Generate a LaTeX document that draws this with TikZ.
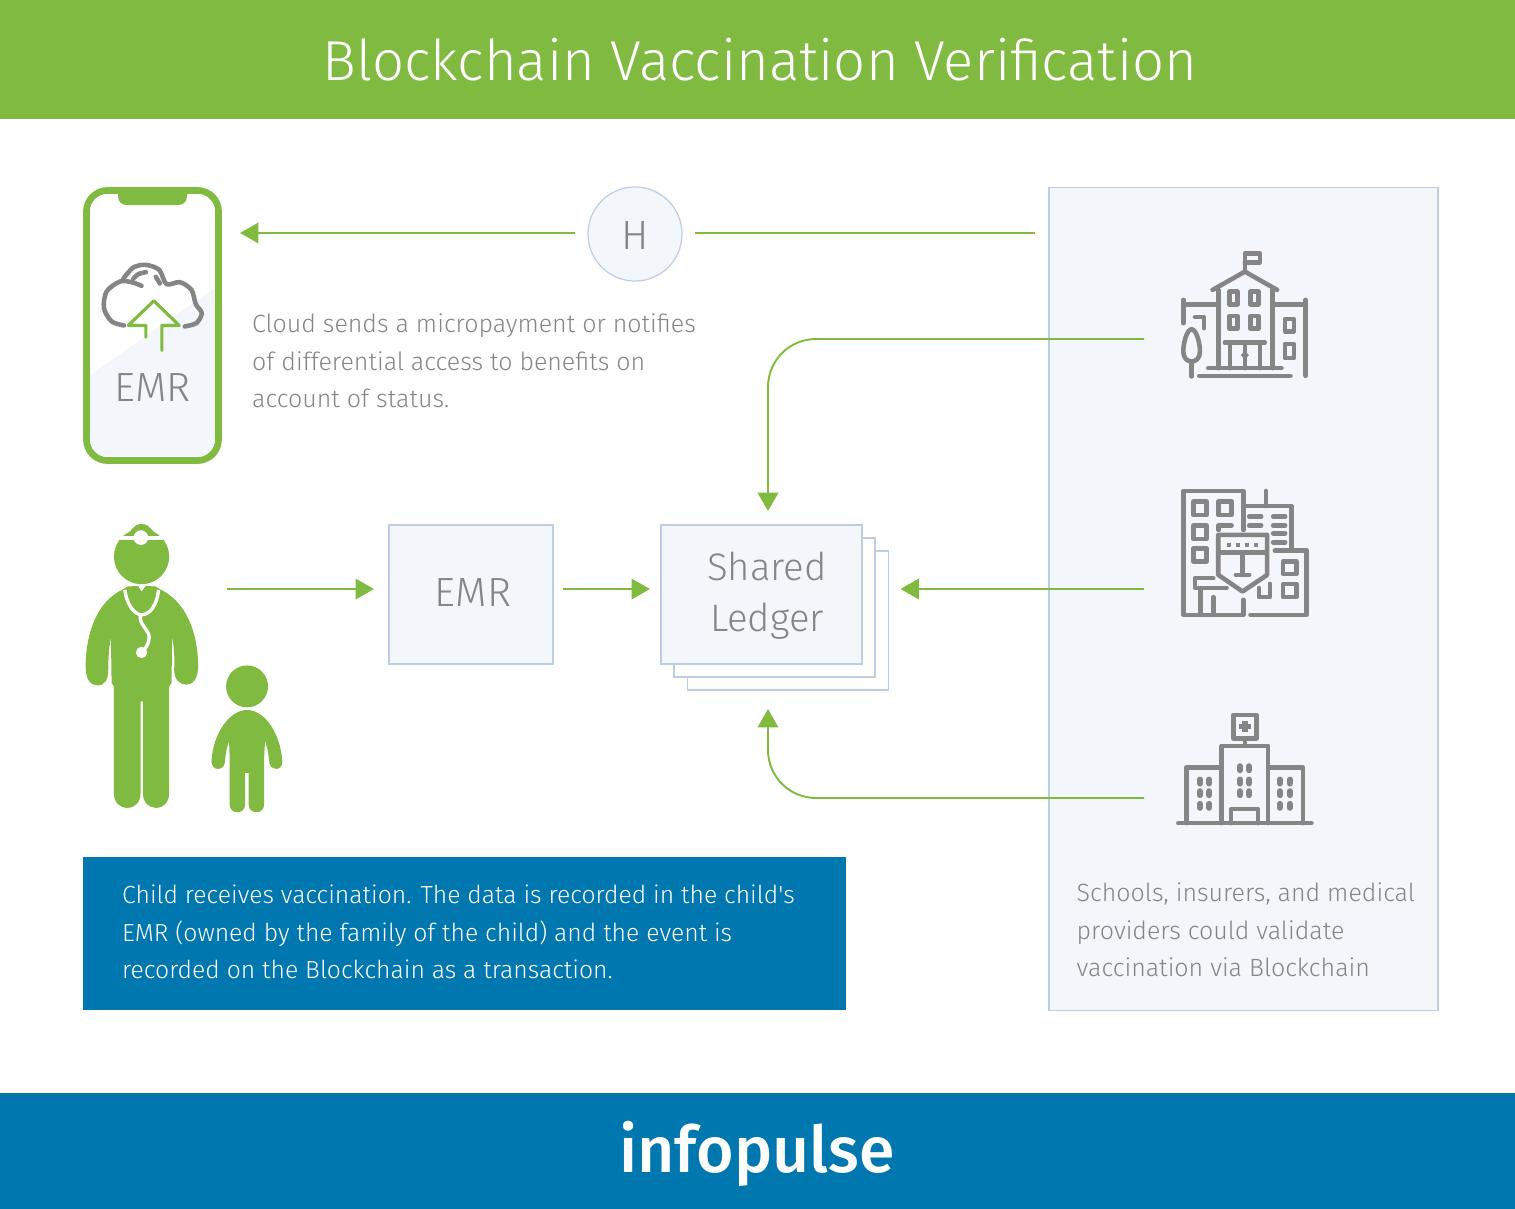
\documentclass[tikz,border=0pt]{standalone}
\usepackage{fontspec}
\setmainfont{Fira Sans Light}
\newfontfamily\logofont{Fira Sans Medium}
\usetikzlibrary{arrows.meta,calc,positioning}
\definecolor{leaf}{HTML}{80BA41}
\definecolor{sea}{HTML}{0077AE}
\definecolor{ash}{HTML}{858585}
\definecolor{mist}{HTML}{F3F6FA}
\definecolor{edge}{HTML}{BFCEDF}
\tikzset{
    sheet/.style={draw=edge,line width=0.38pt,minimum width=2.01cm,minimum height=1.39cm,inner sep=0pt,outer sep=0pt},
    flow/.style={draw=leaf,line width=0.55pt},
    flowtip/.style={flow,-{Triangle[length=5.2pt,width=5.8pt]}},
    para/.style={anchor=west,align=left,text=ash,font=\fontsize{7.1pt}{10.62pt}\selectfont,inner sep=0pt},
    biglabel/.style={text=ash,font=\fontsize{11.6pt}{14.4pt}\selectfont,align=center,inner sep=0pt},
    iconline/.style={draw=ash,line width=1.3pt,line cap=round,line join=round},
    closeup/.style={x=0.003333cm,y=-0.003333cm}
}
\begin{document}
\begin{tikzpicture}[x=0.01cm,y=-0.01cm]
    \useasboundingbox (0,0) rectangle (1515,1209);

    %bands
    \fill [leaf] (0,0) rectangle (1515,119);
    \fill [sea] (0,1093) rectangle (1515,1209);
    \draw (760,60) node (title) [text=white,font=\fontsize{16pt}{18pt}\selectfont] {Blockchain Vaccination Verification};
    \draw (757,1154) node (logo) [text=white,font=\logofont\fontsize{18.3pt}{20pt}\selectfont] {infopulse};

    %panel and boxes
    \draw (1243.5,599) node (panel) [sheet,fill=mist,minimum width=3.89cm,minimum height=8.22cm] {};
    \draw (788,620.5) node (sheetc) [sheet,fill=white] {};
    \draw (774.5,607.5) node (sheetb) [sheet,fill=white] {};
    \draw (761.5,594.5) node (ledger) [sheet,fill=mist] {};
    \draw (767,595.5) node (ledgertext) [biglabel,font=\fontsize{10.9pt}{14.4pt}\selectfont] {Shared\\Ledger};
    \draw (471,594.5) node (emr) [sheet,fill=mist,minimum width=1.64cm] {};
    \draw (473,593) node (emrtext) [biglabel] {EMR};
    \draw (635,234) node (hnode) [circle,draw=edge,line width=0.35pt,fill=mist,minimum size=0.94cm,inner sep=0pt,outer sep=0pt] {};
    \draw (635,236) node (htext) [biglabel] {H};
    \draw (464.5,933.5) node (note) [fill=sea,minimum width=7.63cm,minimum height=1.53cm,inner sep=0pt] {};

    %phone
    \fill [mist] (90,375) -- (215,288) -- (215,456) -- (90,456) -- cycle;
    \draw (152.5,325.5) node (phone) [draw=leaf,line width=1.9pt,rounded corners=6pt,minimum width=1.32cm,minimum height=2.7cm,inner sep=0pt,outer sep=1pt] {};
    \fill [leaf] (118,190) -- (187,190) -- (187,196) .. controls (187,202) and (183,205) .. (178,205) -- (127,205) .. controls (122,205) and (118,202) .. (118,196) -- cycle;
    \draw (152.5,388) node (phonelabel) [biglabel] {EMR};
    \begin{scope}[shift={(70,175)},closeup]
        \draw [iconline] plot [smooth] coordinates {(162,452) (125,440) (102,400) (110,350) (150,320) (185,322) (215,333)};
        \draw [iconline] plot [smooth] coordinates {(160,312) (190,278) (228,270) (268,285) (290,328) (330,322) (365,345) (378,388) (396,415) (380,445) (345,455)};
        \draw [iconline] plot [smooth] coordinates {(190,312) (205,298) (228,292)};
        \draw [iconline] (258,306) -- (270,326);
        \draw [draw=leaf,line width=0.9pt,line cap=round,line join=round] (228,487) -- (228,452) -- (175,452) -- (252,378) -- (328,452) -- (276,452) -- (276,527);
    \end{scope}

    %doctor
    \begin{scope}[shift={(70,510)},closeup]
        \fill [leaf] (215,140) circle (83);
        \fill [leaf] (165,78) .. controls (185,70) and (185,42) .. (215,42) .. controls (245,42) and (245,70) .. (268,78) -- cycle;
        \draw [white,line width=0.9pt] (150,84) -- (280,84);
        \fill [white] (213,83) circle (22);
        \fill [leaf] (160,238) -- (172,230) -- (205,228) -- (215,245) -- (228,228) -- (258,230) -- (270,238)
            .. controls (350,275) and (385,370) .. (385,470) .. controls (385,505) and (370,525) .. (350,525)
            .. controls (330,525) and (313,510) .. (313,480) .. controls (315,440) and (312,410) .. (307,380)
            -- (305,520) -- (298,530) -- (298,850) .. controls (298,880) and (280,895) .. (258,895)
            .. controls (238,895) and (219,880) .. (219,850) -- (219,575) -- (212,575) -- (212,850)
            .. controls (212,880) and (195,895) .. (172,895) .. controls (150,895) and (132,880) .. (132,850)
            -- (132,530) -- (125,520) -- (123,380) .. controls (118,410) and (115,440) .. (115,480)
            .. controls (115,510) and (105,527) .. (82,527) .. controls (62,527) and (47,510) .. (47,470)
            .. controls (48,370) and (80,275) .. (160,238) -- cycle;
        \draw [white,line width=0.95pt] (165,240) .. controls (170,285) and (195,315) .. (215,315) .. controls (240,315) and (262,285) .. (266,240);
        \draw [white,line width=0.95pt] (212,315) .. controls (205,345) and (240,360) .. (238,385) .. controls (236,405) and (225,420) .. (215,428);
        \fill [white] (215,428) circle (17);
        %child
        \fill [leaf] (532,530) circle (63);
        \fill [leaf] (532,601) .. controls (480,601) and (430,670) .. (425,755) .. controls (425,770) and (435,778) .. (445,778)
            .. controls (460,778) and (466,765) .. (466,750) .. controls (468,730) and (472,710) .. (478,695) -- (480,750) -- (480,885)
            .. controls (480,900) and (490,908) .. (503,908) .. controls (516,908) and (526,900) .. (526,885) -- (526,790) -- (537,790) -- (537,885)
            .. controls (537,900) and (547,908) .. (560,908) .. controls (573,908) and (583,900) .. (583,885) -- (583,750) -- (586,695)
            .. controls (592,710) and (596,730) .. (598,750) .. controls (598,765) and (605,778) .. (620,778)
            .. controls (630,778) and (638,770) .. (638,755) .. controls (632,670) and (585,601) .. (532,601) -- cycle;
    \end{scope}

    %school
    \begin{scope}[shift={(1160,240)},closeup]
        \draw [iconline] (255,95) -- (255,40) -- (300,40) -- (300,68) -- (255,68);
        \draw [iconline] (158,150) -- (255,95) -- (352,150);
        \draw [iconline] (175,150) -- (175,385);
        \draw [iconline] (338,150) -- (338,385);
        \foreach \a/\b in {208/155,272/155,208/228,272/228}
            \draw [iconline] (\a,\b) rectangle ++(24,38);
        \draw [iconline] (195,308) -- (315,308);
        \foreach \a in {210,255,300}
            \draw [iconline] (\a,308) -- (\a,385);
        \fill [ash] (255,333) -- (267,346) -- (255,359) -- (243,346) -- cycle;
        \draw [iconline] (145,385) -- (365,385);
        \draw [iconline] (118,408) -- (392,408);
        \draw [iconline] (70,180) -- (70,250);
        \draw [iconline] (70,193) -- (175,193);
        \draw [iconline] (105,232) -- (132,232) -- (132,265);
        \draw [iconline] (338,193) -- (438,193);
        \draw [iconline] (438,180) -- (438,408);
        \draw [iconline] (375,238) rectangle (402,275);
        \draw [iconline] (375,312) rectangle (402,355);
        \draw [iconline] (95,268) .. controls (80,270) and (70,310) .. (70,335) .. controls (70,355) and (82,365) .. (95,365) .. controls (108,365) and (120,355) .. (120,335) .. controls (120,310) and (110,270) .. (95,268) -- cycle;
        \draw [iconline] (95,365) -- (95,410);
    \end{scope}

    %insurer
    \begin{scope}[shift={(1160,480)},closeup]
        \draw [iconline] (250,150) -- (250,33) -- (70,33) -- (70,405) -- (250,405) -- (250,360);
        \draw [iconline] (272,405) -- (440,405) -- (440,212) -- (345,212);
        \draw [iconline] (250,78) -- (395,78) -- (395,205);
        \draw [iconline] (318,33) -- (318,78);
        \foreach \a/\b in {100/65,175/65,100/137,100/205}
            \draw [iconline] (\a,\b) rectangle ++(40,40);
        \draw [iconline] (175,150) -- (175,137) -- (215,137);
        \foreach \a/\b in {268/110,340/110,268/137,340/137,340/160,340/187}
            \draw [iconline] (\a,\b) -- ++(36,0);
        \draw [iconline] (175,165) -- (322,165) -- (322,285) -- (248,335) -- (175,285) -- cycle;
        \foreach \a in {208,235,262,288}
            \fill [ash] (\a-6,188) rectangle (\a+6,202);
        \draw [iconline] (178,217) -- (320,217);
        \draw [iconline] (248,217) -- (248,285);
        \draw [iconline] (228,285) -- (268,285);
        \draw [iconline] (160,295) -- (105,295) -- (105,325) -- (200,325);
        \draw [iconline] (122,325) -- (122,405);
        \draw [iconline] (160,352) -- (160,405);
        \draw [iconline] (370,245) rectangle (410,282);
        \draw [iconline] (370,312) rectangle (410,352);
        \draw [iconline] (330,312) -- (330,352) -- (297,352) -- (297,325);
    \end{scope}

    %hospital
    \begin{scope}[shift={(1160,700)},closeup]
        \draw [iconline] (55,370) -- (455,370);
        \draw [iconline] (80,370) -- (80,203) -- (185,203);
        \draw [iconline] (185,370) -- (185,138) -- (325,138) -- (325,370);
        \draw [iconline] (325,203) -- (430,203) -- (430,370);
        \draw [iconline] (220,45) rectangle (290,115);
        \draw [iconline] (255,115) -- (255,138);
        \draw [iconline,line width=1.5pt,line cap=butt] (238,80) -- (272,80);
        \draw [iconline,line width=1.5pt,line cap=butt] (255,63) -- (255,97);
        \draw [iconline] (213,370) -- (213,328) -- (295,328) -- (295,370);
        \foreach \a in {120,148,360,390}
            \foreach \b in {245,280,318}
                \draw [iconline,line width=1.7pt] (\a,\b-6) -- (\a,\b+6);
        \foreach \a in {240,268}
            \foreach \b in {205,245,280}
                \draw [iconline,line width=1.7pt] (\a,\b-6) -- (\a,\b+6);
    \end{scope}

    %texts
    \draw (251.5,361) node (cloudtext) [para] {Cloud sends a micropayment or notifies\\of differential access to benefits on\\account of status.};
    \draw (121.5,932) node (notetext) [para,text=white,font=\fontsize{7.03pt}{10.62pt}\selectfont] {Child receives vaccination. The data is recorded in the child\textquotesingle s\\EMR (owned by the family of the child) and the event is\\recorded on the Blockchain as a transaction.};
    \draw (1076,930) node (paneltext) [para] {Schools, insurers, and medical\\providers could validate\\vaccination via Blockchain};

    %free ends
    \coordinate (panelout) at (1035,233);
    \coordinate (phonein) at (222,233);
    \coordinate (docout) at (227,589);
    \coordinate (schoolout) at (1144,339);
    \coordinate (insurerout) at (1144,589);
    \coordinate (hospitalout) at (1144,798);
    \coordinate (ledgertop) at (768,525);
    \coordinate (ledgerbase) at (768,691);

    %arrows
    \draw [flow,shorten >=12pt*0.3] (panelout) -- (hnode.east |- panelout);
    \draw [flowtip,shorten <=13pt*0.2845,shorten >=18pt*0.2845] (hnode.west |- phonein) -- (phonein);
    \draw [flowtip,shorten >=15pt*0.2845] (docout) -- (docout -| emr.west);
    \draw [flowtip,shorten <=10pt*0.2845,shorten >=11pt*0.2845] (docout -| emr.east) -- (docout -| ledger.west);
    \draw [flowtip,rounded corners=0.48cm,shorten >=14pt*0.2845] (schoolout) -| (ledgertop);
    \draw [flowtip,shorten >=12pt*0.2845] (insurerout) -- (insurerout -| sheetc.east);
    \draw [flowtip,rounded corners=0.48cm,shorten >=18pt*0.2845] (hospitalout) -| (ledgerbase);

\end{tikzpicture}
\end{document}
